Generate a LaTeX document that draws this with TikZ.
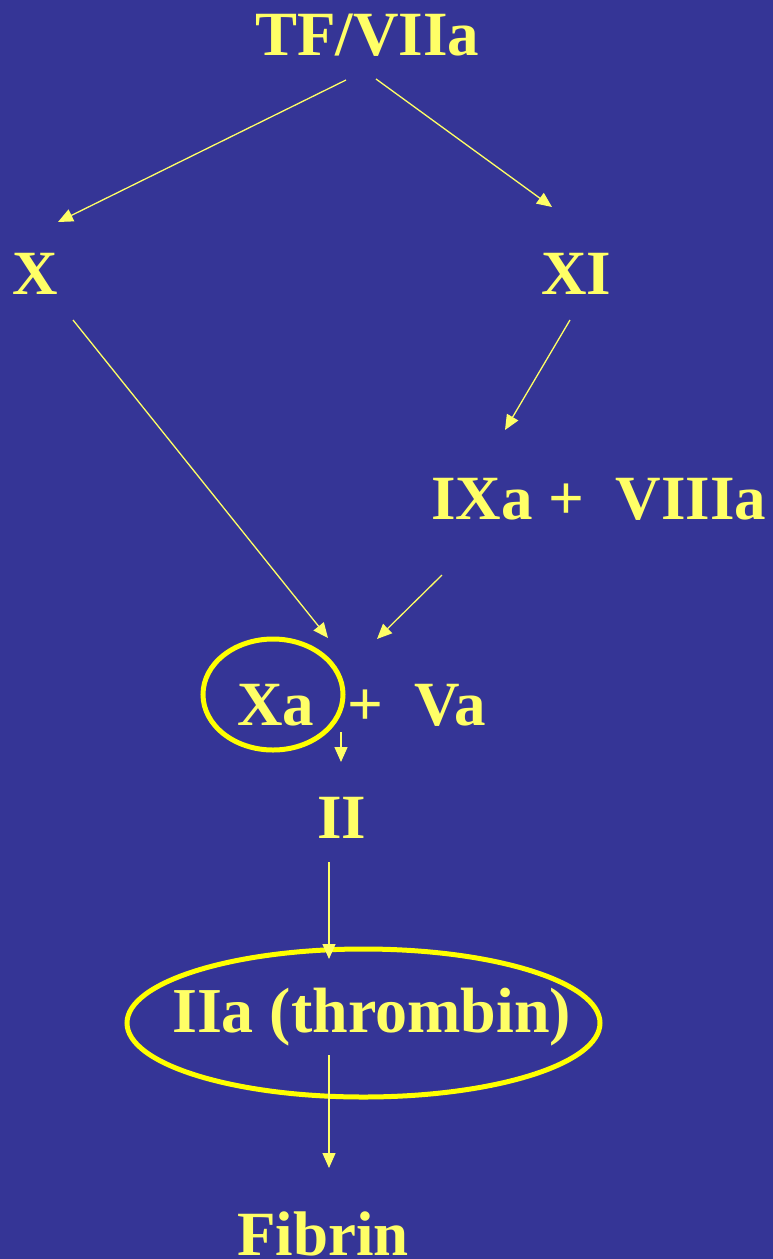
\documentclass[tikz,border=0pt]{standalone}
\usepackage{fontspec}
\setmainfont{Liberation Serif}
\usetikzlibrary{arrows.meta,shapes.geometric}
\definecolor{bgblue}{HTML}{353596}
\definecolor{txtyel}{HTML}{FFFF66}
\definecolor{ringyel}{HTML}{FFFF00}
\begin{document}
\begin{tikzpicture}[x=1pt,y=-1pt,
  lbl/.style={anchor=base west,inner sep=0pt,text=txtyel,font=\fontsize{63}{63}\selectfont\bfseries},
  arr/.style={draw=txtyel,line width=1.3pt,-{Triangle[length=15pt,width=13pt]}},
  ring/.style={draw=ringyel,line width=5pt,ellipse,inner sep=0pt}]
\fill[bgblue] (0,0) rectangle (773,1259);
\useasboundingbox (0,0) rectangle (773,1259);
% labels
\node[lbl] (tf) at (255,55) {TF/VIIa};
\node[lbl] (x) at (12,294) {X};
\node[lbl] (xi) at (541,294) {XI};
\node[lbl] (ix) at (431,519) {IXa + \ VIIIa};
\node[lbl] (xa) at (237,725) {Xa};
\node[lbl] (va) at (347,725) {+\ \ Va};
\node[lbl] (ii) at (317,838) {II};
\node[lbl,font=\fontsize{64}{64}\selectfont\bfseries] (iia) at (172,1032) {IIa (thrombin)};
\node[lbl] (fib) at (237,1255) {Fibrin};
% rings
\node[ring,minimum width=140pt,minimum height=111pt] (r1) at (273,694.5) {};
\node[ring,minimum width=473pt,minimum height=148pt] (r2) at (363.5,1023) {};
% connector ends
\coordinate (tf-l) at (346,80);
\coordinate (tf-r) at (376,79);
\coordinate (x-in) at (58,222);
\coordinate (xi-in) at (552,207);
\coordinate (x-out) at (73,320);
\coordinate (xi-out) at (570,320);
\coordinate (ix-in) at (505,430);
\coordinate (ix-out) at (442,575);
\coordinate (xa-in1) at (328,638);
\coordinate (xa-in2) at (377,639);
\coordinate (xa-out) at (341,732);
\coordinate (ii-in) at (341,762);
\coordinate (ii-out) at (329,862);
\coordinate (iia-in) at (329,959);
\coordinate (iia-out) at (329,1055);
\coordinate (fib-in) at (329,1168);
% connectors
\draw[arr] (tf-l) -- (x-in);
\draw[arr] (tf-r) -- (xi-in);
\draw[arr] (x-out) -- (xa-in1);
\draw[arr] (xi-out) -- (ix-in);
\draw[arr] (ix-out) -- (xa-in2);
\draw[arr] (xa-out) -- (ii-in);
\draw[arr] (ii-out) -- (iia-in);
\draw[arr] (iia-out) -- (fib-in);
\end{tikzpicture}
\end{document}
